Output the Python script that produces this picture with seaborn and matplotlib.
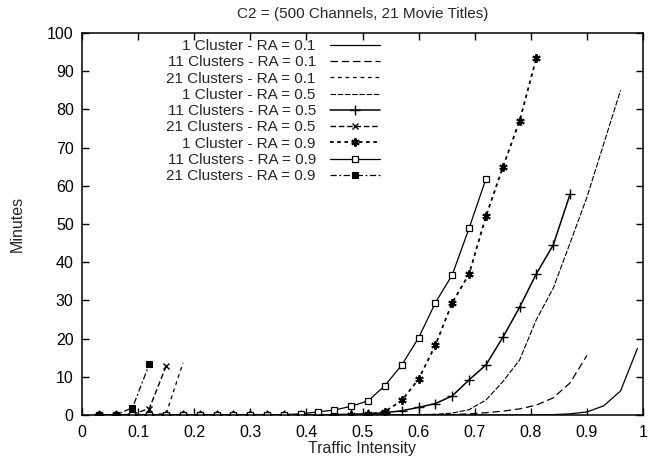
import matplotlib
matplotlib.use("Agg")
import matplotlib.pyplot as plt
import seaborn as sns
import pandas as pd

# Traffic intensity sample points shared by every run
intensity = [0.03, 0.06, 0.09, 0.12, 0.15, 0.18, 0.21, 0.24, 0.27, 0.30, 0.33,
             0.36, 0.39, 0.42, 0.45, 0.48, 0.51, 0.54, 0.57, 0.60, 0.63, 0.66,
             0.69, 0.72, 0.75, 0.78, 0.81, 0.84, 0.87, 0.90, 0.93, 0.96, 0.99]

# Waiting time in minutes, one list per configuration
c1_ra01 = [0, 0, 0, 0, 0, 0, 0, 0, 0, 0, 0, 0, 0, 0, 0, 0, 0, 0, 0, 0, 0, 0,
           0, 0, 0, 0, 0, 0.1, 0.3, 0.8, 2.4, 6.3, 17.4]
c11_ra01 = [0, 0, 0, 0, 0, 0, 0, 0, 0, 0, 0, 0, 0, 0, 0, 0, 0, 0, 0, 0, 0,
            0.1, 0.3, 0.6, 1.0, 1.6, 2.6, 4.5, 8.4, 15.6]
c21_ra01 = [0, 0, 0, 0, 0.4, 13.6]
c1_ra05 = [0, 0, 0, 0, 0, 0, 0, 0, 0, 0, 0, 0, 0, 0, 0, 0, 0, 0, 0, 0.1, 0.2,
           0.5, 1.4, 3.9, 8.7, 14.4, 25.0, 33.2, 45.0, 57.0, 71.0, 85.0]
c11_ra05 = [0, 0, 0, 0, 0, 0, 0, 0, 0, 0, 0, 0, 0, 0, 0.1, 0.2, 0.3, 0.6, 1.1,
            2.0, 3.0, 5.0, 9.2, 13.1, 20.3, 28.2, 37.0, 44.5, 57.8]
c21_ra05 = [0, 0, 0.2, 1.7, 12.8]
c1_ra09 = [0, 0, 0, 0, 0, 0, 0, 0, 0, 0, 0, 0, 0, 0, 0, 0, 0.2, 0.9, 3.8, 9.4,
           18.3, 29.4, 36.9, 52.0, 64.8, 77.0, 93.5]
c11_ra09 = [0, 0, 0, 0, 0, 0, 0, 0, 0, 0, 0, 0.1, 0.3, 0.8, 1.3, 2.3, 3.7, 7.7,
            13.1, 20.2, 29.4, 36.7, 48.9, 61.8]
c21_ra09 = [0, 0, 1.9, 13.3]

labels = ["1 Cluster - RA = 0.1", "11 Clusters - RA = 0.1", "21 Clusters - RA = 0.1",
          "1 Cluster - RA = 0.5", "11 Clusters - RA = 0.5", "21 Clusters - RA = 0.5",
          "1 Cluster - RA = 0.9", "11 Clusters - RA = 0.9", "21 Clusters - RA = 0.9"]
series = [c1_ra01, c11_ra01, c21_ra01, c1_ra05, c11_ra05, c21_ra05,
          c1_ra09, c11_ra09, c21_ra09]

styles = [
    dict(linestyle="-", lw=0.9),
    dict(linestyle=(0, (6, 3)), lw=0.9),
    dict(linestyle=(0, (3, 3)), lw=0.9),
    dict(linestyle=(0, (5, 1.5)), lw=0.8),
    dict(linestyle="-", lw=1.1, marker="+", markersize=7, mew=1.0),
    dict(linestyle=(0, (4, 2)), lw=1.0, marker="x", markersize=5, mew=1.0),
    dict(linestyle=(0, (2, 2)), lw=1.3, marker=(6, 2, 0), markersize=6, mew=1.4),
    dict(linestyle="-", lw=0.9, marker="s", markersize=5, mfc="white", mew=0.9),
    dict(linestyle=(0, (5, 2, 1.5, 2)), lw=0.9, marker="s", markersize=5, mfc="black", mew=0.8),
]

sns.set_style("ticks")
plt.rcParams["font.family"] = ["Liberation Sans", "DejaVu Sans"]

fig = plt.figure(figsize=(6.48, 4.57), dpi=100)
ax = fig.add_axes([82 / 648, 1 - 415 / 457, (643 - 82) / 648, (415 - 33) / 457])

for label, vals, st in zip(labels, series, styles):
    df = pd.DataFrame({"Traffic Intensity": intensity[:len(vals)], "Minutes": vals})
    sns.lineplot(data=df, x="Traffic Intensity", y="Minutes", ax=ax, color="black",
                 label=label, errorbar=None, mec="black", **st)

ax.set_xlim(0, 1)
ax.set_ylim(0, 100)
ax.set_xticks([0, 0.1, 0.2, 0.3, 0.4, 0.5, 0.6, 0.7, 0.8, 0.9, 1])
ax.set_xticklabels(["0", "0.1", "0.2", "0.3", "0.4", "0.5", "0.6", "0.7", "0.8", "0.9", "1"])
ax.set_yticks(range(0, 101, 10))
ax.tick_params(direction="in", top=True, right=True, length=5, width=1,
               labelsize=11.5, colors="black")
ax.tick_params(axis="x", pad=7)
ax.tick_params(axis="y", pad=6)
for sp in ax.spines.values():
    sp.set_linewidth(1.1)
    sp.set_color("black")

ax.set_title("C2 = (500 Channels, 21 Movie Titles)", fontsize=11, pad=11)
ax.set_xlabel("Traffic Intensity", fontsize=11.5, labelpad=1)
ax.set_ylabel("Minutes", fontsize=11.5, labelpad=16)

leg = ax.legend(loc="upper right", bbox_to_anchor=((380 - 82) / 561, (415 - 39) / 382),
                frameon=False, markerfirst=False, fontsize=11, handlelength=3.3,
                handletextpad=0.9, labelspacing=0.15, borderpad=0, borderaxespad=0)

fig.savefig("out.png", dpi=100, facecolor="white")
